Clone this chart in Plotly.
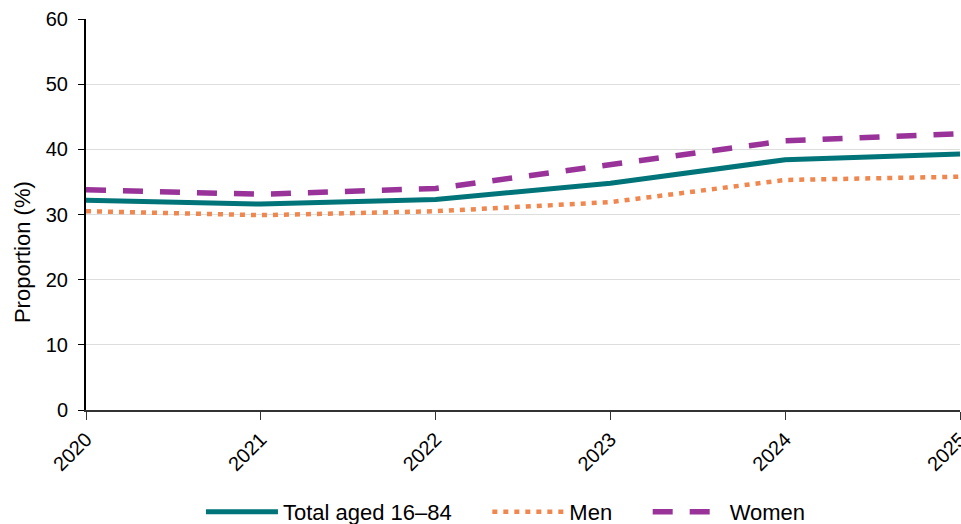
import plotly.graph_objects as go

years = ["2020", "2021", "2022", "2023", "2024", "2025"]
total = [32.2, 31.6, 32.3, 34.8, 38.4, 39.3]
men = [30.5, 29.9, 30.5, 31.9, 35.3, 35.8]
women = [33.8, 33.1, 34.0, 37.6, 41.3, 42.4]
series_names = ["Total aged 16\u201384", "Men", "Women"]
y_title = "Proportion (%)"

pad = "\u00a0" * 5
fig = go.Figure()
fig.add_trace(go.Scatter(x=years, y=total, name=series_names[0] + pad, mode="lines",
                         line=dict(color="#007478", width=5)))
fig.add_trace(go.Scatter(x=years, y=men, name=series_names[1] + pad, mode="lines",
                         line=dict(color="#f0874f", width=4.5, dash="5px,6px")))
fig.add_trace(go.Scatter(x=years, y=women, name=series_names[2], mode="lines",
                         line=dict(color="#993399", width=5.5, dash="20px,17px")))

fig.update_layout(
    width=961, height=524,
    margin=dict(l=86, r=1, t=19, b=114),
    plot_bgcolor="white", paper_bgcolor="white",
    font=dict(family="Liberation Sans, Arial, sans-serif", size=20, color="black"),
    showlegend=True,
    legend=dict(orientation="h", xref="paper", x=0.4805, xanchor="center",
                yref="container", y=0.0229, yanchor="middle",
                itemwidth=72, font=dict(size=22), traceorder="normal"),
    xaxis=dict(type="category", range=[0, 5], showgrid=False, showline=True,
               linecolor="#333333", linewidth=1.5, ticks="outside", ticklen=8,
               tickcolor="#333333", tickangle=-45, automargin=False),
    yaxis=dict(range=[0, 60], dtick=10, showgrid=True, gridcolor="#dddddd", gridwidth=1,
               showline=True, linecolor="black", linewidth=2, ticks="outside",
               ticklen=6, tickcolor="black", zeroline=False, automargin=False,
               ticklabelstandoff=6),
    annotations=[dict(text=y_title, textangle=-90, xref="paper", yref="paper",
                      x=-0.0732, y=0.404, xanchor="center", yanchor="middle",
                      showarrow=False, font=dict(size=22))],
)
fig.write_html("out.html", config={"displayModeBar": False},
               post_script="document.body.style.margin='0px';")
